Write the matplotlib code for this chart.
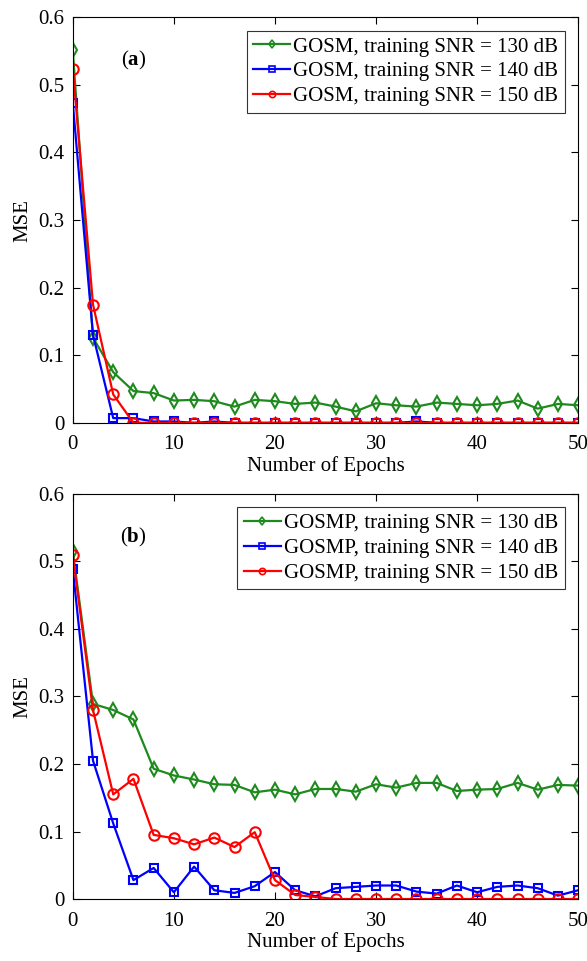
import matplotlib
matplotlib.use("Agg")
import matplotlib.pyplot as plt

plt.rcParams['font.family'] = ['Liberation Serif', 'DejaVu Serif']
plt.rcParams['mathtext.fontset'] = 'custom'
plt.rcParams['mathtext.rm'] = 'Liberation Serif'
plt.rcParams['mathtext.bf'] = 'Liberation Serif:bold'

epochs = list(range(0, 51, 2))

# panel (a): GOSM
gosm_130 = [0.551, 0.126, 0.075, 0.047, 0.044, 0.033, 0.034, 0.032, 0.024, 0.034,
            0.032, 0.028, 0.030, 0.024, 0.017, 0.029, 0.026, 0.024, 0.030, 0.028,
            0.026, 0.028, 0.033, 0.021, 0.028, 0.026]
gosm_140 = [0.473, 0.130, 0.007, 0.007, 0.002, 0.002, 0.000, 0.002, 0.000, 0.000,
            0.000, 0.000, 0.000, 0.000, 0.000, 0.000, 0.000, 0.002, 0.000, 0.000,
            0.000, 0.000, 0.000, 0.000, 0.000, 0.000]
gosm_150 = [0.524, 0.175, 0.042, 0.000, 0.000, 0.000, 0.000, 0.000, 0.000, 0.000,
            0.000, 0.000, 0.000, 0.000, 0.000, 0.000, 0.000, 0.000, 0.000, 0.000,
            0.000, 0.000, 0.000, 0.000, 0.000, 0.000]

# panel (b): GOSMP
gosmp_130 = [0.515, 0.289, 0.280, 0.266, 0.193, 0.183, 0.177, 0.170, 0.169, 0.158,
             0.162, 0.155, 0.163, 0.163, 0.159, 0.170, 0.165, 0.172, 0.172, 0.160,
             0.162, 0.163, 0.172, 0.162, 0.169, 0.168]
gosmp_140 = [0.489, 0.205, 0.112, 0.028, 0.046, 0.010, 0.048, 0.013, 0.009, 0.019,
             0.040, 0.013, 0.004, 0.016, 0.018, 0.020, 0.020, 0.011, 0.008, 0.020,
             0.010, 0.018, 0.020, 0.016, 0.005, 0.013]
gosmp_150 = [0.509, 0.280, 0.155, 0.178, 0.095, 0.090, 0.081, 0.091, 0.077, 0.099,
             0.028, 0.006, 0.003, 0.000, 0.000, 0.000, 0.000, 0.000, 0.000, 0.000,
             0.000, 0.000, 0.000, 0.000, 0.000, 0.000]

snrs = [130, 140, 150]
colors = ['#1e8a1e', '#0000ff', '#ff0000']
markers = ['d', 's', 'o']
msizes = [7, 6, 7.5]

fig = plt.figure(figsize=(5.87, 9.61), dpi=100)
ax_a = fig.add_axes([0.124, 0.560, 0.861, 0.422])
ax_b = fig.add_axes([0.124, 0.0645, 0.861, 0.4215])

panels = [
    (ax_a, 'GOSM', [gosm_130, gosm_140, gosm_150], 'a'),
    (ax_b, 'GOSMP', [gosmp_130, gosmp_140, gosmp_150], 'b'),
]

for ax, name, series, tag in panels:
    for vals, snr, c, m, ms in zip(series, snrs, colors, markers, msizes):
        ax.plot(epochs, vals, color=c, marker=m, markersize=ms,
                markerfacecolor='none', markeredgewidth=1.5, linewidth=1.6,
                label=f'{name}, training SNR = {snr} dB')
    ax.set_xlim(0, 50)
    ax.set_ylim(0, 0.6)
    ax.set_xticks([0, 10, 20, 30, 40, 50])
    ax.set_yticks([0, 0.1, 0.2, 0.3, 0.4, 0.5, 0.6])
    ax.set_yticklabels(['0', '0.1', '0.2', '0.3', '0.4', '0.5', '0.6'])
    ax.tick_params(direction='in', top=True, right=True, labelsize=15,
                   length=5, width=0.8)
    ax.tick_params(axis='x', pad=9)
    ax.tick_params(axis='y', pad=6)
    ax.set_xlabel('Number of Epochs', fontsize=15, labelpad=1)
    ax.set_ylabel('MSE', fontsize=15, labelpad=4)
    for sp in ax.spines.values():
        sp.set_linewidth(0.8)
    leg = ax.legend(loc='upper right', fontsize=15, frameon=True, fancybox=False,
                    edgecolor='black', handlelength=1.8, handletextpad=0.15,
                    borderpad=0.3, labelspacing=0.25, borderaxespad=0.65)
    leg.get_frame().set_linewidth(0.8)
    for h in leg.legend_handles:
        h.set_markersize(4.5)
        h.set_markeredgewidth(1.2)
    ax.text(6, 0.536, r'($\mathbf{' + tag + r'}$)', fontsize=15,
            ha='center', va='center')

fig.savefig('out.png', dpi=100)
